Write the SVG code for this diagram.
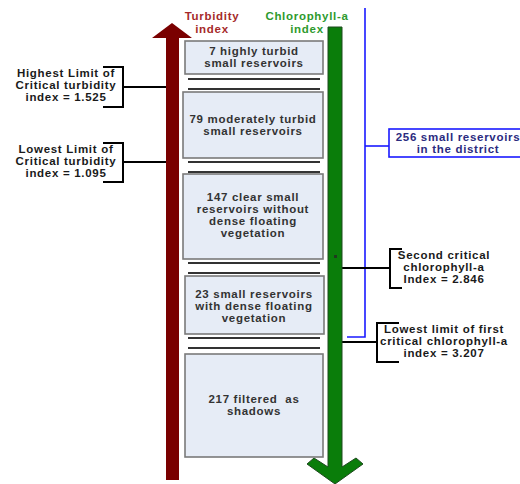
<svg xmlns="http://www.w3.org/2000/svg" width="520" height="484" viewBox="0 0 520 484">
<style>
text{font-family:"Liberation Sans",Arial,sans-serif;font-weight:bold;font-size:11.5px;letter-spacing:0.7px;text-anchor:middle}
.bt{fill:#333333}
.lt{fill:#1a1a1a}
.box{fill:#e6ecf6;stroke:#7a7a7a;stroke-width:1.6}
.sep{stroke:#333333;stroke-width:2}
.br{fill:none;stroke:#000;stroke-width:2}
.blue{fill:none;stroke:#1a1aff;stroke-width:1.6}
</style>
<rect width="520" height="484" fill="#ffffff"/>
<g id="connectors">
<line x1="123" y1="87" x2="166" y2="87" class="br"/>
<line x1="123" y1="162" x2="166" y2="162" class="br"/>
<polyline points="365,8 365,337 347,337" class="blue"/>
<line x1="365" y1="146" x2="389" y2="146" class="blue"/>
<line x1="342" y1="268" x2="390" y2="268" class="br"/>
<line x1="342" y1="342" x2="377" y2="342" class="br"/>
<g class="sep">
<line x1="188" y1="79" x2="320" y2="79"/>
<line x1="188" y1="89" x2="320" y2="89"/>
<line x1="188" y1="162" x2="320" y2="162"/>
<line x1="188" y1="172" x2="320" y2="172"/>
<line x1="188" y1="263" x2="320" y2="263"/>
<line x1="188" y1="273" x2="320" y2="273"/>
<line x1="188" y1="338" x2="320" y2="338"/>
<line x1="188" y1="348" x2="320" y2="348"/>
</g>
</g>
<g id="turbidity-arrow">
<polygon points="172,23 192,38 179,38 179,480 166,480 166,38 152,38" fill="#7a0000"/>
<text x="212" y="20" fill="#a52a2a" font-size="12">Turbidity</text>
<text x="212" y="33" fill="#a52a2a" font-size="12">index</text>
</g>
<g id="chlorophyll-arrow">
<polygon points="328,27 342,27 342,467 356,458 363,464 335,484 307,464 314,458 328,467" fill="#0a7d0a" stroke="#1f4a1f" stroke-width="1"/>
<rect x="334" y="255" width="3" height="3" fill="#1f3a1f"/>
<text x="307" y="20" fill="#2e9a2e" font-size="12">Chlorophyll-a</text>
<text x="307" y="33" fill="#2e9a2e" font-size="12">index</text>
</g>
<g id="box1">
<rect x="185" y="41" width="138" height="33" class="box"/>
<text x="254" y="55" class="bt">7 highly turbid</text>
<text x="254" y="67" class="bt">small reservoirs</text>
</g>
<g id="box2">
<rect x="183" y="92" width="140" height="66" class="box"/>
<text x="253" y="123" class="bt">79 moderately turbid</text>
<text x="253" y="135" class="bt">small reservoirs</text>
</g>
<g id="box3">
<rect x="183" y="174" width="140" height="85" class="box"/>
<text x="253" y="201" class="bt">147 clear small</text>
<text x="253" y="213" class="bt">reservoirs without</text>
<text x="253" y="225" class="bt">dense floating</text>
<text x="253" y="237" class="bt">vegetation</text>
</g>
<g id="box4">
<rect x="185" y="276" width="139" height="58" class="box"/>
<text x="254" y="298" class="bt">23 small reservoirs</text>
<text x="254" y="310" class="bt">with dense floating</text>
<text x="254" y="322" class="bt">vegetation</text>
</g>
<g id="box5">
<rect x="185" y="354" width="138" height="103" class="box"/>
<text x="254" y="403" class="bt" style="white-space:pre">217 filtered  as</text>
<text x="254" y="415" class="bt">shadows</text>
</g>
<g id="total">
<rect x="389" y="129" width="140" height="28" fill="#ffffff" stroke="#1a1aff" stroke-width="1.6"/>
<text x="458" y="141" fill="#2b2b80">256 small reservoirs</text>
<text x="458" y="153" fill="#2b2b80">in the district</text>
</g>
<g id="high-turbidity">
<polyline points="103,67 123,67 123,107 103,107" class="br"/>
<text x="66" y="77" class="lt">Highest Limit of</text>
<text x="66" y="89" class="lt">Critical turbidity</text>
<text x="66" y="101" class="lt">index = 1.525</text>
</g>
<g id="low-turbidity">
<polyline points="103,143 123,143 123,182 103,182" class="br"/>
<text x="66" y="153" class="lt">Lowest Limit of</text>
<text x="66" y="165" class="lt">Critical turbidity</text>
<text x="66" y="177" class="lt">index = 1.095</text>
</g>
<g id="second-chl">
<polyline points="402,249 390,249 390,288 402,288" class="br"/>
<text x="444" y="259" class="lt">Second critical</text>
<text x="444" y="271" class="lt">chlorophyll-a</text>
<text x="444" y="283" class="lt">Index = 2.846</text>
</g>
<g id="first-chl">
<polyline points="399,323 377,323 377,362 399,362" class="br"/>
<text x="444" y="333" class="lt">Lowest limit of first</text>
<text x="444" y="345" class="lt">critical chlorophyll-a</text>
<text x="444" y="357" class="lt">index = 3.207</text>
</g>
</svg>
